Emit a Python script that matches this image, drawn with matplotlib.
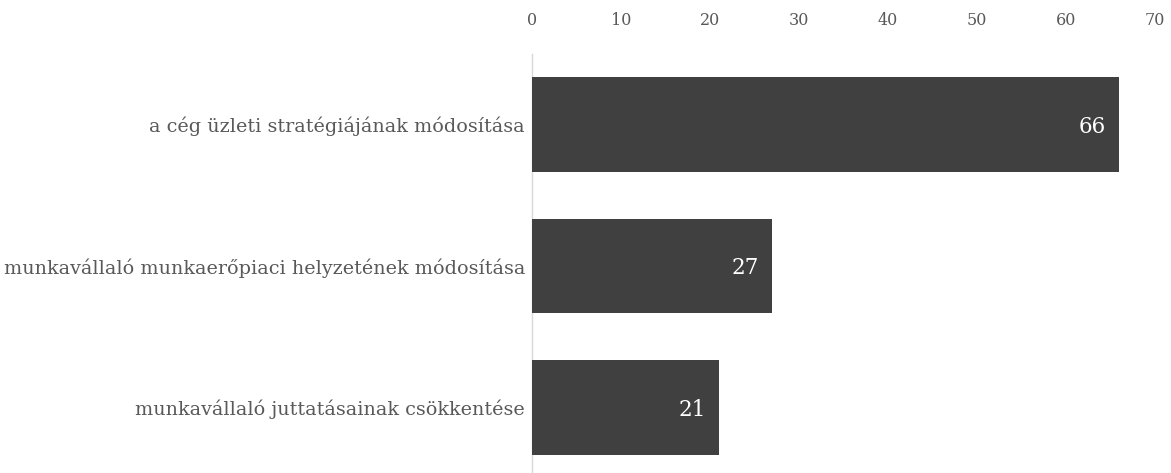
import matplotlib
matplotlib.use("Agg")
import matplotlib.pyplot as plt

categories = ["a cég üzleti stratégiájának módosítása",
              "munkavállaló munkaerőpiaci helyzetének módosítása",
              "munkavállaló juttatásainak csökkentése"]
values = [66, 27, 21]
xticks = [0, 10, 20, 30, 40, 50, 60, 70]

W, H = 1171, 473
fig = plt.figure(figsize=(W / 100, H / 100), dpi=100)
left, right, top, bottom = 532, 1155, 53.75, 473
ax = fig.add_axes([left / W, 1 - bottom / H, (right - left) / W, (bottom - top) / H])

font = "DejaVu Serif"
pos = list(range(len(categories)))
ax.barh(pos, values, height=0.67, color="#404040", zorder=3)
for p, v in zip(pos, values):
    ax.text(v - 1.5, p + 0.015, str(v), ha="right", va="center", color="white",
            fontsize=15.5, family=font, zorder=4)

ax.set_xlim(0, 70)
ax.set_ylim(2.463, -0.5)
ax.set_xticks(xticks)
ax.xaxis.tick_top()
ax.tick_params(axis="x", length=0, pad=18, labelsize=11.5, labelcolor="#595959")
ax.set_yticks(pos)
ax.set_yticklabels(categories)
ax.tick_params(axis="y", length=0, pad=5, labelsize=13.8, labelcolor="#595959")
for lab in ax.get_xticklabels() + ax.get_yticklabels():
    lab.set_family(font)
for s in ["top", "right", "bottom"]:
    ax.spines[s].set_visible(False)
ax.spines["left"].set_color("#d9d9d9")
ax.spines["left"].set_linewidth(1)

fig.savefig("out.png", dpi=100)
